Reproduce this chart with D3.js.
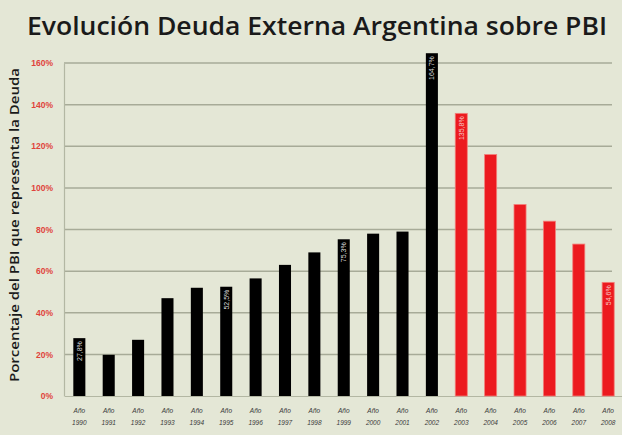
<!DOCTYPE html>
<html><head><meta charset="utf-8">
<script src="https://cdn.jsdelivr.net/npm/d3@7"></script>
<style>html,body{margin:0;padding:0;background:#fff;}</style>
</head><body>
<script>
const years = ["1990","1991","1992","1993","1994","1995","1996","1997","1998","1999","2000","2001","2002","2003","2004","2005","2006","2007","2008"];
const values = [27.8,19.8,27,47,52,52.5,56.5,63,69,75.3,78,79,164.7,135.8,116,92,84,73,54.6];
const valueLabels = ["27,8%","","","","","52,5%","","","","75,3%","","","164,7%","135,8%","","","","","54,6%"];
const yTicks = [0,20,40,60,80,100,120,140,160];
const title = "Evolución Deuda Externa Argentina sobre PBI";
const yTitle = "Porcentaje del PBI que representa la Deuda";

const W = 622, H = 435;
const svg = d3.select("body").append("svg").attr("width", W).attr("height", H);
svg.append("rect").attr("width", W).attr("height", H).attr("fill", "#e4e7d6");

const x = d3.scaleBand().domain(years).range([64.5, 623]).paddingInner(0.59).paddingOuter(0.3);
const y = d3.scaleLinear().domain([0, 160]).range([396, 63]);

// title
svg.append("text").attr("x", 317).attr("y", 35).attr("text-anchor", "middle")
  .attr("font-family", "'Open Sans', sans-serif").attr("font-weight", 600).attr("font-size", 26)
  .attr("fill", "#1a1a1a").attr("textLength", 580).attr("lengthAdjust", "spacingAndGlyphs").text(title);

// gridlines
svg.append("g").selectAll("line").data(yTicks.filter(d => d > 0)).join("line")
  .attr("x1", 64).attr("x2", 612).attr("y1", d => y(d)).attr("y2", d => y(d))
  .attr("stroke", "#a7ab98").attr("stroke-width", 1.5);

// y axis
const yAxis = svg.append("g").attr("transform", "translate(64,0)")
  .call(d3.axisLeft(y).tickValues(yTicks).tickFormat(d => d + "%").tickSize(0).tickPadding(11));
yAxis.select(".domain").attr("stroke", "#b3b7a3").attr("stroke-width", 1.2);
yAxis.selectAll("text").attr("fill", "#e0433b").attr("font-family", "'Liberation Sans', sans-serif")
  .attr("font-size", 8.5).attr("font-weight", "bold");

// x axis
const xAxis = svg.append("g").attr("transform", "translate(0,396)")
  .call(d3.axisBottom(x).tickSize(0).tickFormat(""));
xAxis.select(".domain").attr("stroke", "#b3b7a3").attr("stroke-width", 1.2);
const xl = svg.append("g");
years.forEach(yr => {
  const cx = x(yr) + x.bandwidth() / 2;
  const t = xl.append("text").attr("x", cx).attr("y", 413).attr("text-anchor", "middle")
    .attr("font-family", "'Liberation Sans', sans-serif").attr("font-size", 6.5)
    .attr("font-style", "italic").attr("fill", "#3a3a3a");
  t.append("tspan").attr("x", cx).text("Año");
  t.append("tspan").attr("x", cx).attr("dy", 12).text(yr);
});

// bars
svg.append("g").selectAll("rect").data(years).join("rect")
  .attr("x", d => x(d)).attr("width", x.bandwidth())
  .attr("y", (d, i) => y(values[i])).attr("height", (d, i) => y(0) - y(values[i]))
  .attr("fill", (d, i) => i > 12 ? "#ec1a1f" : "#000")
  .attr("stroke", (d, i) => i > 12 ? "#f37f7a" : "none").attr("stroke-width", 0.8);

// value labels
svg.append("g").selectAll("text").data(years.filter((d, i) => valueLabels[i])).join("text")
  .attr("transform", d => {
    const i = years.indexOf(d);
    return `translate(${x(d) + x.bandwidth() / 2 + 2.5},${y(values[i]) + 3}) rotate(-90)`;
  })
  .attr("text-anchor", "end").attr("font-family", "'Liberation Sans', sans-serif")
  .attr("font-size", 7).attr("fill", d => years.indexOf(d) > 12 ? "#f7c6c4" : "#d8d8d8")
  .text(d => valueLabels[years.indexOf(d)]);

// y title
svg.append("text").attr("transform", "translate(19,225) rotate(-90)").attr("text-anchor", "middle")
  .attr("font-family", "'Open Sans', sans-serif").attr("font-weight", 600).attr("font-size", 12.5)
  .attr("fill", "#1a1a1a").attr("textLength", 314).attr("lengthAdjust", "spacingAndGlyphs").text(yTitle);
</script>
</body></html>
